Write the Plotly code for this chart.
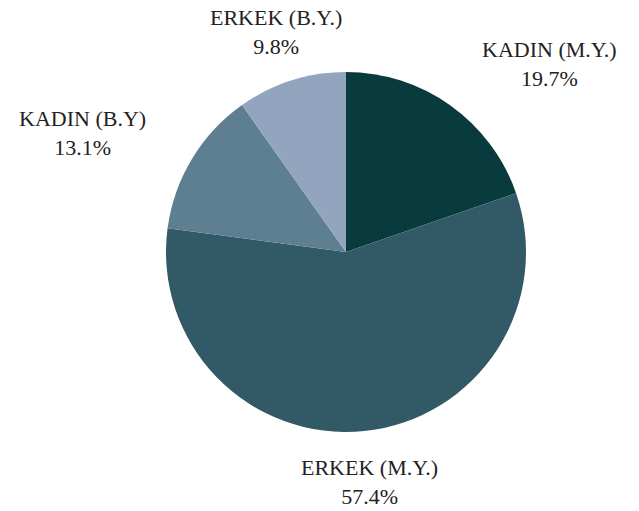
import math
import plotly.graph_objects as go

labels = ["KADIN (M.Y.)", "ERKEK (M.Y.)", "KADIN (B.Y)", "ERKEK (B.Y.)"]
values = [19.7, 57.4, 13.1, 9.8]
colors = ["#083a3e", "#325a66", "#5e7f91", "#93a4bf"]

R_PX = 180          # pie radius in pixels (layout)
LABEL_R = 1.283     # label anchor radius, as a multiple of the pie radius

fig = go.Figure(go.Pie(
    labels=labels,
    values=values,
    sort=False,
    direction="clockwise",
    rotation=0,
    marker=dict(colors=colors, line=dict(width=0)),
    textinfo="none",
    showlegend=False,
    hoverinfo="label+percent",
))

total = sum(values)
cum = 0.0
annotations = []
for lab, v in zip(labels, values):
    mid = (cum + v / 2.0) / total * 2 * math.pi
    cum += v
    ux, uy = math.sin(mid), math.cos(mid)
    if ux > 0.5:
        xa = "left"
    elif ux < -0.5:
        xa = "right"
    else:
        xa = "center"
    annotations.append(dict(
        x=0.5, y=0.5, xref="paper", yref="paper",
        xshift=ux * R_PX * LABEL_R, yshift=uy * R_PX * LABEL_R,
        xanchor=xa, yanchor="middle", align="center",
        text=f"{lab}<br>{v / total * 100:.1f}%",
        showarrow=False,
        font=dict(family="Liberation Serif", size=22, color="#222222"),
    ))

fig.update_layout(
    width=639, height=511,
    margin=dict(l=158, r=121, t=64, b=87),
    paper_bgcolor="white",
    plot_bgcolor="white",
    annotations=annotations,
)
fig.write_html("out.html")
